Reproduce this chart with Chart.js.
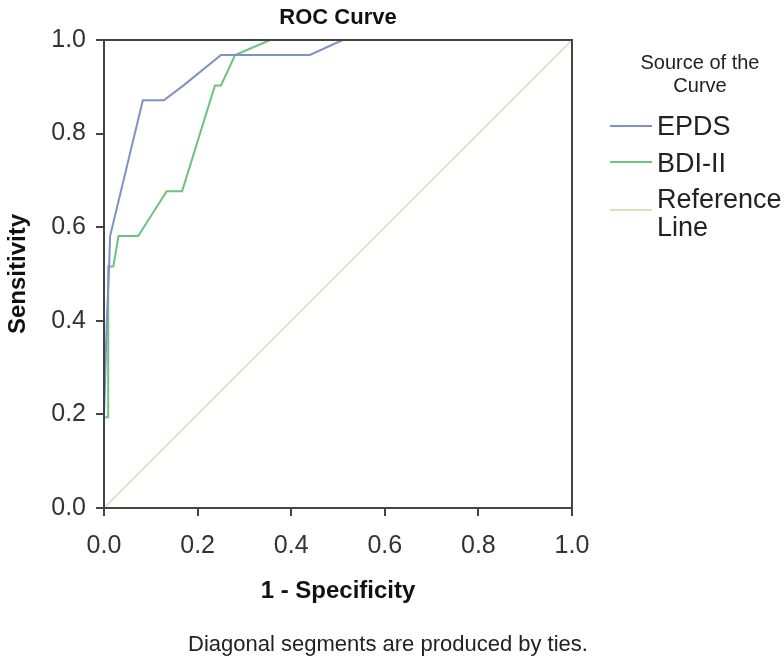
<!DOCTYPE html>
<html>
<head>
<meta charset="utf-8">
<script src="https://cdn.jsdelivr.net/npm/chart.js@4.4.1/dist/chart.umd.min.js"></script>
<style>
  html, body { margin: 0; padding: 0; background: #ffffff; }
  #wrap { width: 784px; height: 661px; }
</style>
</head>
<body>
<div id="wrap"><canvas id="c" width="784" height="661"></canvas></div>
<script>
// ---- data ----
const tickValues = [0, 0.2, 0.4, 0.6, 0.8, 1.0];
const epdsFpr = [0, 0, 0.006, 0.011, 0.013, 0.083, 0.128, 0.17, 0.25, 0.44, 0.51, 1];
const epdsTpr = [0, 0.194, 0.4, 0.516, 0.581, 0.871, 0.871, 0.903, 0.968, 0.968, 1, 1];
const bdiFpr = [0, 0, 0.009, 0.009, 0.02, 0.031, 0.073, 0.134, 0.167, 0.237, 0.25, 0.28, 0.355, 1];
const bdiTpr = [0, 0.194, 0.194, 0.516, 0.516, 0.581, 0.581, 0.677, 0.677, 0.903, 0.903, 0.968, 1, 1];
const refX = [0, 1];
const refY = [0, 1];
const seriesLabels = ['EPDS', 'BDI-II', 'Reference Line'];
const titleText = 'ROC Curve';
const xTitle = '1 - Specificity';
const yTitle = 'Sensitivity';
const legendTitle = ['Source of the', 'Curve'];
const footnote = 'Diagonal segments are produced by ties.';

const toPts = (xs, ys) => xs.map((x, i) => ({ x: x, y: ys[i] }));
const FONT = "'Liberation Sans', Arial, sans-serif";

const decor = {
  id: 'decor',
  afterDraw(chart) {
    const ctx = chart.ctx;
    const a = chart.chartArea;
    ctx.save();
    // frame
    ctx.strokeStyle = '#444';
    ctx.lineWidth = 2;
    ctx.strokeRect(a.left, a.top, a.right - a.left, a.bottom - a.top);
    // title
    ctx.fillStyle = '#111';
    ctx.textAlign = 'center';
    ctx.textBaseline = 'middle';
    ctx.font = "bold 22px " + FONT;
    ctx.fillText(titleText, (a.left + a.right) / 2, 18);
    // footnote
    ctx.font = "22px " + FONT;
    ctx.fillStyle = '#222';
    ctx.fillText(footnote, 388, 645);
    // legend
    ctx.font = "20px " + FONT;
    ctx.fillStyle = '#222';
    ctx.fillText(legendTitle[0], 700, 63);
    ctx.fillText(legendTitle[1], 700, 86);
    const rows = [
      { sy: 126, lines: [[seriesLabels[0], 128]] },
      { sy: 162, lines: [[seriesLabels[1], 165]] },
      { sy: 210, lines: [['Reference', 201], ['Line', 229]] }
    ];
    ctx.textAlign = 'left';
    ctx.font = "27px " + FONT;
    chart.data.datasets.forEach((ds, i) => {
      const r = rows[i];
      ctx.strokeStyle = ds.borderColor;
      ctx.lineWidth = 2;
      ctx.beginPath();
      ctx.moveTo(610, r.sy);
      ctx.lineTo(652, r.sy);
      ctx.stroke();
      ctx.fillStyle = '#222';
      r.lines.forEach(l => ctx.fillText(l[0], 657, l[1]));
    });
    ctx.restore();
  }
};

const axisCommon = (isX) => ({
  type: 'linear',
  min: 0,
  max: 1,
  afterBuildTicks(scale) { scale.ticks = tickValues.map(v => ({ value: v })); },
  ticks: {
    callback: v => Number(v).toFixed(1),
    font: { family: FONT, size: 25 },
    color: '#333',
    padding: isX ? 15 : 10,
    autoSkip: false,
    maxRotation: 0
  },
  grid: { display: true, drawOnChartArea: false, drawTicks: true, tickLength: 8, color: '#444', lineWidth: 2 },
  border: { display: true, color: '#444', width: 2 },
  title: {
    display: true,
    text: isX ? xTitle : yTitle,
    color: '#111',
    font: { family: FONT, size: 24, weight: 'bold' },
    padding: isX ? { top: 0, bottom: 55 } : { top: 4, bottom: 0 }
  },
  afterFit(scale) {
    if (isX) scale.height = 153; else scale.width = 104;
  }
});

new Chart(document.getElementById('c'), {
  type: 'line',
  data: {
    datasets: [
      { label: seriesLabels[0], data: toPts(epdsFpr, epdsTpr), borderColor: '#8090c8', borderWidth: 2, pointRadius: 0, tension: 0, fill: false },
      { label: seriesLabels[1], data: toPts(bdiFpr, bdiTpr), borderColor: '#6cc47d', borderWidth: 2, pointRadius: 0, tension: 0, fill: false },
      { label: seriesLabels[2], data: toPts(refX, refY), borderColor: '#e4dcbd', borderWidth: 1.6, pointRadius: 0, tension: 0, fill: false, order: 5 }
    ]
  },
  options: {
    responsive: false,
    animation: false,
    layout: { padding: { top: 40, right: 212, left: 0, bottom: 0 } },
    plugins: { legend: { display: false }, tooltip: { enabled: false }, title: { display: false } },
    scales: { x: axisCommon(true), y: axisCommon(false) }
  },
  plugins: [decor]
});
</script>
</body>
</html>
